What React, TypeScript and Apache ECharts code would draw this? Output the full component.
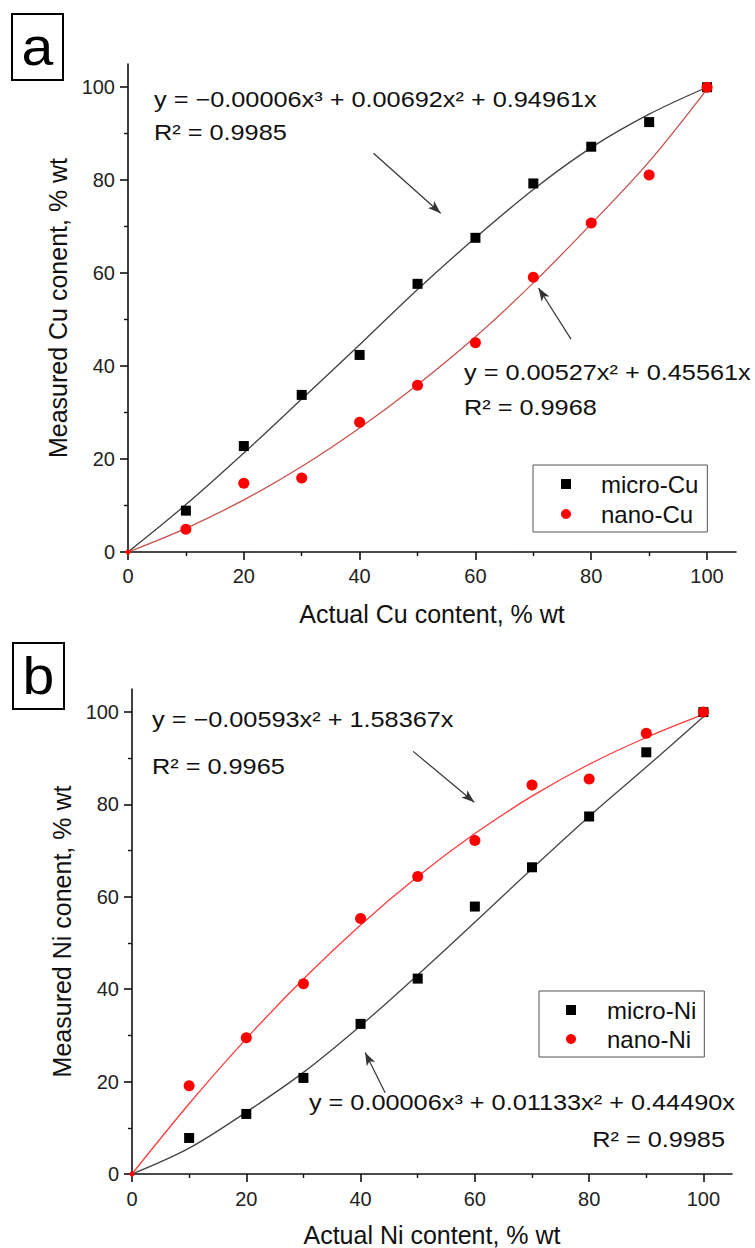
import React, { useEffect, useRef } from 'react';
import * as echarts from 'echarts';

const FONT = '"Liberation Sans", Arial, Helvetica, sans-serif';

// axis ticks
const tickValues = [0, 20, 40, 60, 80, 100];
const minorValues = [10, 30, 50, 70, 90];

// measured points (x = actual content, % wt)
const xActual = [10, 20, 30, 40, 50, 60, 70, 80, 90, 100];
const microCu = [8.9, 22.8, 33.8, 42.4, 57.7, 67.6, 79.3, 87.2, 92.5, 100];
const nanoCu = [4.9, 14.8, 15.9, 27.9, 35.9, 45.0, 59.1, 70.8, 81.1, 100];
const microNi = [7.8, 13.0, 20.8, 32.5, 42.3, 57.9, 66.4, 77.4, 91.3, 100];
const nanoNi = [19.1, 29.5, 41.2, 55.3, 64.4, 72.2, 84.2, 85.5, 95.4, 100];

// fitted curves
const fitX = [0, 10, 20, 30, 40, 50, 60, 70, 80, 90, 100];
const fitMicroCu = [0, 10.2, 21.3, 32.9, 44.6, 56.5, 67.6, 78.0, 87.0, 94.2, 100];
const fitNanoCu = [0, 5.1, 11.2, 18.4, 26.7, 36.0, 46.3, 57.9, 70.6, 84.0, 99.6];
const fitNanoNi = [0, 15.2, 29.3, 42.2, 53.9, 64.4, 73.7, 81.8, 88.7, 94.5, 99.5];
const fitMicroNi = [0, 5.6, 13.4, 22.0, 32.1, 43.1, 54.5, 66.1, 77.4, 88.1, 99.0];

// annotation arrows (data coordinates: [from], [to])
const arrowA1 = [[42.4, 85.8], [54.0, 72.9]];
const arrowA2 = [[76.5, 45.8], [70.9, 56.8]];
const arrowB1 = [[49.2, 91.5], [59.9, 80.5]];
const arrowB2 = [[44.3, 17.6], [40.8, 26.3]];

// texts
const eqA1 = 'y = −0.00006x³ + 0.00692x² + 0.94961x';
const r2A1 = 'R² = 0.9985';
const eqA2 = 'y = 0.00527x² + 0.45561x';
const r2A2 = 'R² = 0.9968';
const eqB1 = 'y = −0.00593x² + 1.58367x';
const r2B1 = 'R² = 0.9965';
const eqB2 = 'y = 0.00006x³ + 0.01133x² + 0.44490x';
const r2B2 = 'R² = 0.9985';

const pairs = (xs: number[], ys: number[]) => xs.map((x, i) => [x, ys[i]]);

const AXIS_COLOR = '#111';

function mainXAxis(grid: number, name: string, nameGap: number, margin: number) {
  return {
    type: 'value', gridIndex: grid, min: 0, max: 105, position: 'bottom',
    name, nameLocation: 'middle', nameGap,
    nameTextStyle: { fontSize: 25, fontFamily: FONT, color: '#111' },
    axisLine: { show: true, onZero: false, lineStyle: { color: AXIS_COLOR, width: 1.6 } },
    axisTick: { show: true, inside: false, length: 8, customValues: tickValues, lineStyle: { color: AXIS_COLOR, width: 1.6 } },
    axisLabel: { show: true, customValues: tickValues, margin, fontSize: 20, fontFamily: FONT, color: '#222' },
    splitLine: { show: false },
  };
}
function minorXAxis(grid: number) {
  return {
    type: 'value', gridIndex: grid, min: 0, max: 105, position: 'bottom',
    axisLine: { show: false, onZero: false },
    axisTick: { show: true, inside: false, length: 4, customValues: minorValues, lineStyle: { color: AXIS_COLOR, width: 1.4 } },
    axisLabel: { show: false },
    splitLine: { show: false },
  };
}
function mainYAxis(grid: number, name: string, nameGap: number) {
  return {
    type: 'value', gridIndex: grid, min: 0, max: 105, position: 'left',
    name, nameLocation: 'middle', nameGap,
    nameTextStyle: { fontSize: 25, fontFamily: FONT, color: '#111' },
    axisLine: { show: true, onZero: false, lineStyle: { color: AXIS_COLOR, width: 1.6 } },
    axisTick: { show: true, inside: false, length: 8, customValues: tickValues, lineStyle: { color: AXIS_COLOR, width: 1.6 } },
    axisLabel: { show: true, customValues: tickValues, margin: 13, fontSize: 20, fontFamily: FONT, color: '#222' },
    splitLine: { show: false },
  };
}
function minorYAxis(grid: number) {
  return {
    type: 'value', gridIndex: grid, min: 0, max: 105, position: 'left',
    axisLine: { show: false, onZero: false },
    axisTick: { show: true, inside: false, length: 4, customValues: minorValues, lineStyle: { color: AXIS_COLOR, width: 1.4 } },
    axisLabel: { show: false },
    splitLine: { show: false },
  };
}

function arrow(a: number[][]) {
  return {
    silent: true,
    symbol: ['none', 'arrow'],
    symbolSize: [7, 13],
    label: { show: false },
    emphasis: { disabled: true },
    lineStyle: { color: '#333', width: 1.2, type: 'solid' },
    data: [[{ coord: a[0] }, { coord: a[1] }]],
  };
}

function fitLine(name: string, ys: number[], idx: number, color: string, a: number[][]) {
  return {
    type: 'line', name, xAxisIndex: idx, yAxisIndex: idx,
    data: pairs(fitX, ys), smooth: 0.35, showSymbol: false, symbol: 'none',
    lineStyle: { color, width: 1.3 }, z: 2, silent: true,
    markLine: arrow(a),
  };
}

function scatter(name: string, ys: number[], idx: number, symbol: string, size: number, color: string, withOrigin: boolean) {
  const data: any[] = pairs(xActual, ys);
  if (withOrigin) data.unshift({ value: [0, 0], symbolSize: 5 });
  return {
    type: 'scatter', name, xAxisIndex: idx, yAxisIndex: idx,
    data, symbol, symbolSize: size, itemStyle: { color, opacity: 1 }, z: 3,
  };
}

function txt(text: string, x: number, y: number, align: string = 'left', size = 22, scaleX = 1.15) {
  return {
    type: 'text', x, y, scaleX, silent: true,
    style: {
      text, fontSize: size, fontFamily: FONT, fill: '#111',
      align, verticalAlign: 'middle', textAlign: align, textVerticalAlign: 'middle',
    },
  };
}

function panelLabel(letter: string, x: number, y: number) {
  return [
    { type: 'rect', shape: { x, y, width: 51, height: 66 }, style: { fill: 'none', stroke: '#000', lineWidth: 2 }, silent: true },
    {
      type: 'text', x: x + 25.5, y: y + 33, scaleX: 1.1, silent: true,
      style: { text: letter, fontSize: 52, fontFamily: FONT, fill: '#000', align: 'center', verticalAlign: 'middle', textAlign: 'center', textVerticalAlign: 'middle' },
    },
  ];
}

function legendBox(names: string[], left: number, top: number, itemGap: number, padding: number[], textPad: number) {
  return {
    data: [
      { name: names[0], icon: 'rect' },
      { name: names[1], icon: 'circle' },
    ],
    orient: 'vertical', left, top,
    itemWidth: 10, itemHeight: 10, itemGap, selectedMode: false,
    padding, borderColor: '#555', borderWidth: 1,
    textStyle: { fontSize: 24, fontFamily: FONT, color: '#111', lineHeight: 24, padding: [0, 0, 0, textPad] },
  };
}

export default function App() {
  const ref = useRef<HTMLDivElement>(null);
  useEffect(() => {
    if (!ref.current) return;
    const chart = echarts.init(ref.current, undefined, { renderer: 'svg' });
    const option: any = {
      animation: false,
      backgroundColor: '#fff',
      textStyle: { fontFamily: FONT },
      grid: [
        { left: 128, top: 64, width: 608, height: 488 },
        { left: 132, top: 689, width: 600, height: 485 },
      ],
      xAxis: [
        mainXAxis(0, 'Actual Cu content, % wt', 49, 14),
        minorXAxis(0),
        mainXAxis(1, 'Actual Ni content, % wt', 48, 15),
        minorXAxis(1),
      ],
      yAxis: [
        mainYAxis(0, 'Measured Cu conent, % wt', 55),
        minorYAxis(0),
        mainYAxis(1, 'Measured Ni conent, % wt', 55),
        minorYAxis(1),
      ],
      legend: [
        legendBox(['micro-Cu', 'nano-Cu'], 533, 465, 6, [7, 9, 6, 28], 25),
        legendBox(['micro-Ni', 'nano-Ni'], 539, 991, 5, [7, 8, 6, 27], 26),
      ],
      series: [
        fitLine('fit micro-Cu', fitMicroCu, 0, '#404040', arrowA1),
        fitLine('fit nano-Cu', fitNanoCu, 0, '#c8504c', arrowA2),
        scatter('micro-Cu', microCu, 0, 'rect', 10, '#000', false),
        scatter('nano-Cu', nanoCu, 0, 'circle', 11, '#ff0000', true),
        fitLine('fit nano-Ni', fitNanoNi, 2, '#ff3b3b', arrowB1),
        fitLine('fit micro-Ni', fitMicroNi, 2, '#444444', arrowB2),
        scatter('micro-Ni', microNi, 2, 'rect', 10, '#000', false),
        scatter('nano-Ni', nanoNi, 2, 'circle', 11, '#ff0000', true),
      ],
      graphic: [
        ...panelLabel('a', 12, 14),
        ...panelLabel('b', 13, 643),
        txt(eqA1, 154, 100),
        txt(r2A1, 154, 133),
        txt(eqA2, 464, 373),
        txt(r2A2, 464, 408),
        txt(eqB1, 152, 720),
        txt(r2B1, 152, 767),
        txt(eqB2, 735, 1103, 'right'),
        txt(r2B2, 725, 1140, 'right'),
      ],
    };
    chart.setOption(option);
    return () => chart.dispose();
  }, []);
  return (
    <div
      ref={ref}
      style={{ position: 'fixed', left: 0, top: 0, width: 755, height: 1248, background: '#fff' }}
    />
  );
}
